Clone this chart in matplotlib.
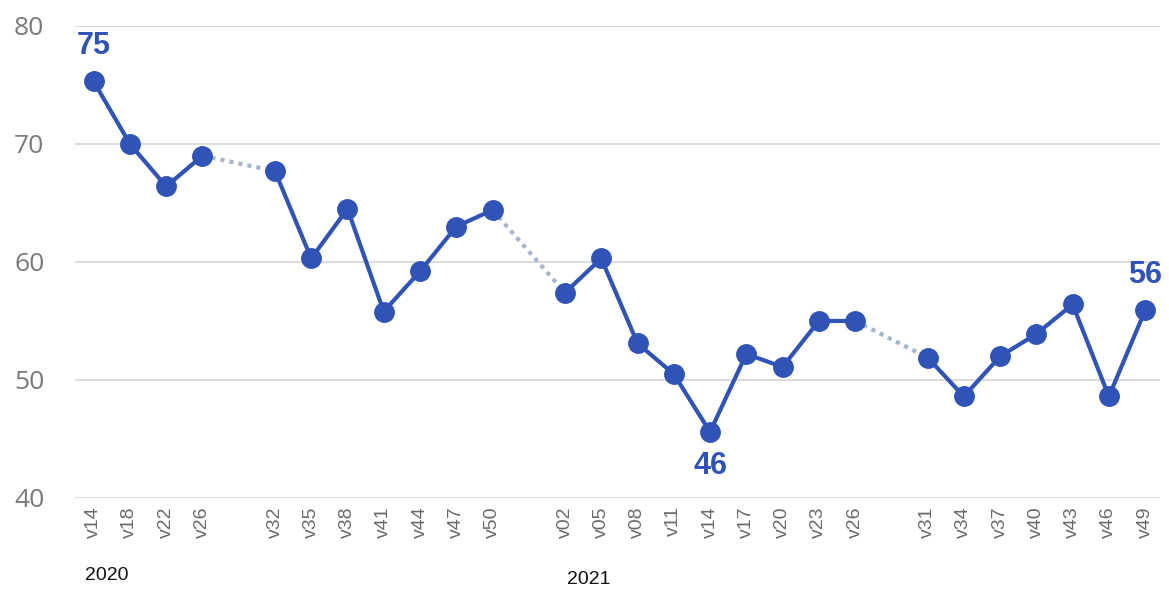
import matplotlib
matplotlib.use("Agg")
import matplotlib.pyplot as plt
import numpy as np

# Weekly index, grouped into survey periods (gaps between periods)
groups_labels = [
    ["v14", "v18", "v22", "v26"],
    ["v32", "v35", "v38", "v41", "v44", "v47", "v50"],
    ["v02", "v05", "v08", "v11", "v14", "v17", "v20", "v23", "v26"],
    ["v31", "v34", "v37", "v40", "v43", "v46", "v49"],
]
groups_values = [
    [75.3, 70.0, 66.4, 69.0],
    [67.7, 60.3, 64.5, 55.8, 59.2, 63.0, 64.4],
    [57.4, 60.3, 53.1, 50.5, 45.6, 52.2, 51.1, 55.0, 55.0],
    [51.9, 48.6, 52.0, 53.9, 56.4, 48.6, 55.9],
]
years = ["2020", "2021"]
yticks = [40, 50, 60, 70, 80]

line_color = "#3053b8"
gap_color = "#aab5cc"
grid_color = "#dcdcdc"
ytick_color = "#7a7a7a"
xtick_color = "#6a6a6a"

fig = plt.figure(figsize=(11.69, 5.90), dpi=100)
ax = fig.add_axes([0.064, 0.156, 0.928, 0.800])

# assign x slots, leaving one empty slot between groups
xs_groups = []
pos = 0
tick_pos, tick_lab = [], []
for labs in groups_labels:
    xs = list(range(pos, pos + len(labs)))
    xs_groups.append(xs)
    tick_pos += xs
    tick_lab += labs
    pos += len(labs) + 1

# dotted connectors between groups
for i in range(len(xs_groups) - 1):
    ax.plot([xs_groups[i][-1], xs_groups[i + 1][0]],
            [groups_values[i][-1], groups_values[i + 1][0]],
            color=gap_color, lw=3.0, linestyle=(0, (1, 1.2)), zorder=2,
            dash_capstyle="butt")

for xs, vals in zip(xs_groups, groups_values):
    ax.plot(xs, vals, color=line_color, lw=3, marker="o", markersize=14,
            zorder=3, clip_on=False)

# value labels for start, minimum and latest
all_x = [x for g in xs_groups for x in g]
all_v = [v for g in groups_values for v in g]
imin = int(np.argmin(all_v))
lab_font = dict(color=line_color, fontsize=22, fontweight="bold",
                ha="center", family="Liberation Sans")
ax.annotate(f"{all_v[0]:.0f}", (all_x[0], all_v[0]), xytext=(0, 15),
            textcoords="offset points", va="bottom", **lab_font)
ax.annotate(f"{all_v[imin]:.0f}", (all_x[imin], all_v[imin]), xytext=(0, -14),
            textcoords="offset points", va="top", **lab_font)
ax.annotate(f"{all_v[-1]:.0f}", (all_x[-1], all_v[-1]), xytext=(0, 15),
            textcoords="offset points", va="bottom", **lab_font)

ax.set_ylim(40, 80)
ax.set_xlim(-0.52, all_x[-1] + 0.4)
ax.set_yticks(yticks)
ax.set_yticklabels([str(t) for t in yticks], fontsize=19, color=ytick_color,
                   family="Open Sans")
ax.set_xticks(tick_pos)
ax.set_xticklabels(tick_lab, rotation=90, fontsize=14, color=xtick_color,
                   family="Liberation Sans")
ax.tick_params(axis="both", length=0)
ax.tick_params(axis="y", pad=22)
ax.tick_params(axis="x", pad=6)
ax.grid(axis="y", color=grid_color, lw=1.5)
ax.set_axisbelow(True)
for s in ax.spines.values():
    s.set_visible(False)

# year labels under the first week of each year
trans = matplotlib.transforms.blended_transform_factory(ax.transData, fig.transFigure)
ax.text(xs_groups[0][0] - 0.25, 0.01, years[0], transform=trans, fontsize=14,
        color="#111111", ha="left", va="bottom", family="Liberation Sans")
ax.text(xs_groups[2][0] + 0.05, 0.003, years[1], transform=trans, fontsize=14,
        color="#111111", ha="left", va="bottom", family="Liberation Sans")

fig.savefig("out.png", dpi=100, facecolor="white")
